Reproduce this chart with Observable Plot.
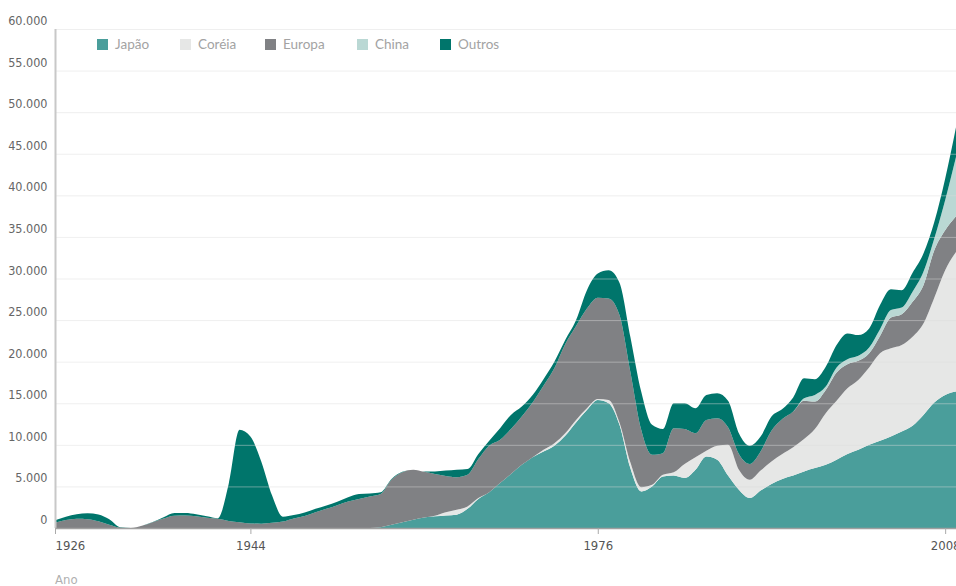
<!DOCTYPE html>
<html>
<head>
<meta charset="utf-8">
<script src="https://cdn.jsdelivr.net/npm/d3@7"></script>
<script src="https://cdn.jsdelivr.net/npm/@observablehq/plot@0.6"></script>
<style>
  html, body { margin: 0; padding: 0; background: #fff; }
  body { width: 956px; height: 586px; overflow: hidden; position: relative; font-family: Lato, "Open Sans", sans-serif; }
  #chart { position: absolute; left: 0; top: 0; }
  .legend { position: absolute; top: 36px; left: 0; height: 16px; }
  .item { position: absolute; top: 0; display: flex; align-items: center; font-size: 13.5px; color: #a3a3a3; white-space: nowrap; }
  .item span.sw { display: inline-block; width: 11px; height: 11px; margin-right: 7px; }
  #xlabel { position: absolute; left: 55px; top: 572px; font-size: 13px; color: #b0b0b0; font-family: "DejaVu Sans Condensed", sans-serif; }
</style>
</head>
<body>
<div id="chart"></div>
<div class="legend" id="legend"></div>
<div id="xlabel">Ano</div>
<script>
const years = [1926,1927,1928,1929,1930,1931,1932,1933,1934,1935,1936,1937,1938,1939,1940,1941,1942,1943,1944,1945,1946,1947,1948,1949,1950,1951,1952,1953,1954,1955,1956,1957,1958,1959,1960,1961,1962,1963,1964,1965,1966,1967,1968,1969,1970,1971,1972,1973,1974,1975,1976,1977,1978,1979,1980,1981,1982,1983,1984,1985,1986,1987,1988,1989,1990,1991,1992,1993,1994,1995,1996,1997,1998,1999,2000,2001,2002,2003,2004,2005,2006,2007,2008,2009];

const japao = [0,0,0,0,0,0,0,0,0,0,0,0,0,0,0,0,0,0,0,0,0,0,0,0,0,0,0,0,0,0,
  100,400,700,1000,1250,1400,1500,1600,2300,3500,4300,5400,6500,7600,8500,9200,9900,11100,12700,14200,
  15400,15000,12400,7200,4400,5000,6200,6300,6000,7000,8600,8200,6300,4600,3600,4500,5300,5900,6300,6800,
  7200,7600,8200,8900,9400,10000,10500,11000,11600,12300,13600,15100,16000,16400];

const coreia = [0,0,0,0,0,0,0,0,0,0,0,0,0,0,0,0,0,0,0,0,0,0,0,0,0,0,0,0,0,0,
  0,0,0,0,0,80,400,600,300,100,0,0,0,0,0,200,300,300,300,200,
  100,400,300,700,500,200,200,400,1700,1500,700,1700,3700,2400,2200,2400,2700,3000,3400,3900,
  4700,6200,7100,7900,8400,9300,10500,10600,10400,10700,11000,12600,15000,16800];

const europa = [640,950,1100,1060,800,380,40,0,260,700,1150,1480,1500,1400,1240,1100,850,680,540,520,620,780,1150,1450,1900,2300,2750,3200,3500,3800,
  4000,5400,6000,6000,5500,5020,4350,3900,3800,4700,5600,5200,5400,5800,6600,7700,9000,10700,11300,12000,
  12200,12200,12900,10900,6900,3600,2600,5300,4200,2900,3700,3300,2100,1900,1900,2300,3700,4200,4300,4600,
  3300,2800,3400,2900,2300,1700,2100,3700,3700,4200,4600,5700,4800,4300];

const china = [0,0,0,0,0,0,0,0,0,0,0,0,0,0,0,0,0,0,0,0,0,0,0,0,0,0,0,0,0,0,
  0,0,0,0,0,0,0,0,0,0,0,0,0,0,0,0,0,0,0,0,
  0,0,0,0,0,0,0,0,0,0,0,0,0,0,0,0,0,0,0,300,
  800,400,600,600,600,700,800,900,800,1200,1600,1400,3600,7100];

const outros = [280,400,550,720,820,670,60,0,0,20,150,320,300,250,160,80,4450,11120,10460,7480,3280,570,400,400,400,400,400,500,580,350,
  200,100,50,0,50,300,650,900,680,600,600,1400,1700,1200,900,800,800,500,700,2200,
  2900,3400,3900,4200,4600,3600,2900,3000,3100,3000,3000,3000,3200,2500,2200,1800,1700,1200,1700,2400,
  1900,2400,2700,3100,2500,2300,2900,2500,2100,2300,2200,2000,2600,3600];

const series = ["Japão", "Coréia", "Europa", "China", "Outros"];
const colors = ["#4a9e9b", "#e6e7e6", "#808184", "#bad8d4", "#00756b"];
const seriesValues = [japao, coreia, europa, china, outros];

const yTicks = [0,5000,10000,15000,20000,25000,30000,35000,40000,45000,50000,55000,60000];
const xTicks = [1926, 1944, 1976, 2008];

const data = series.flatMap((s, i) => years.map((yr, j) => ({year: yr, serie: s, value: seriesValues[i][j]})));

const fmt = d => d3.format(",")(d).replace(/,/g, ".");
const tickFont = '"DejaVu Sans Condensed", sans-serif';

const chart = Plot.plot({
  width: 956,
  height: 564,
  marginLeft: 55,
  marginRight: 0,
  marginTop: 29,
  marginBottom: 36,
  style: {fontFamily: tickFont, fontSize: "13px", color: "#666", background: "transparent"},
  x: {domain: [1926, 2009], axis: null},
  y: {domain: [0, 60000], axis: null},
  color: {domain: series, range: colors},
  marks: [
    Plot.areaY(data, {x: "year", y: "value", z: "serie", fill: "serie", order: series, curve: "monotone-x"}),
    Plot.gridY(yTicks, {stroke: "#dcdcdc", strokeOpacity: 0.45, strokeWidth: 1}),
    Plot.ruleX([1926], {y1: 0, y2: 60000, stroke: "#c8c8c8", strokeWidth: 2}),
    Plot.ruleY([0], {stroke: "#a0a0a0", strokeWidth: 1.5}),
    Plot.axisY(yTicks, {label: null, tickSize: 0, tickPadding: 8, dy: -8.5, tickFormat: fmt, fill: "#666", fontSize: 12.5}),
    Plot.axisX([1926], {label: null, tickSize: 6, tickPadding: 6, tickFormat: d => String(d), textAnchor: "start", stroke: "#aaa", fill: "#555", fontSize: 13}),
    Plot.axisX(xTicks.slice(1), {label: null, tickSize: 6, tickPadding: 6, tickFormat: d => String(d), stroke: "#aaa", fill: "#555", fontSize: 13})
  ]
});
document.getElementById("chart").appendChild(chart);

const legendLefts = [97, 180, 265, 357, 440];
const legend = document.getElementById("legend");
series.forEach((s, i) => {
  const it = document.createElement("div");
  it.className = "item";
  it.style.left = legendLefts[i] + "px";
  const sw = document.createElement("span");
  sw.className = "sw";
  sw.style.background = colors[i];
  it.appendChild(sw);
  it.appendChild(document.createTextNode(s));
  legend.appendChild(it);
});
</script>
</body>
</html>
